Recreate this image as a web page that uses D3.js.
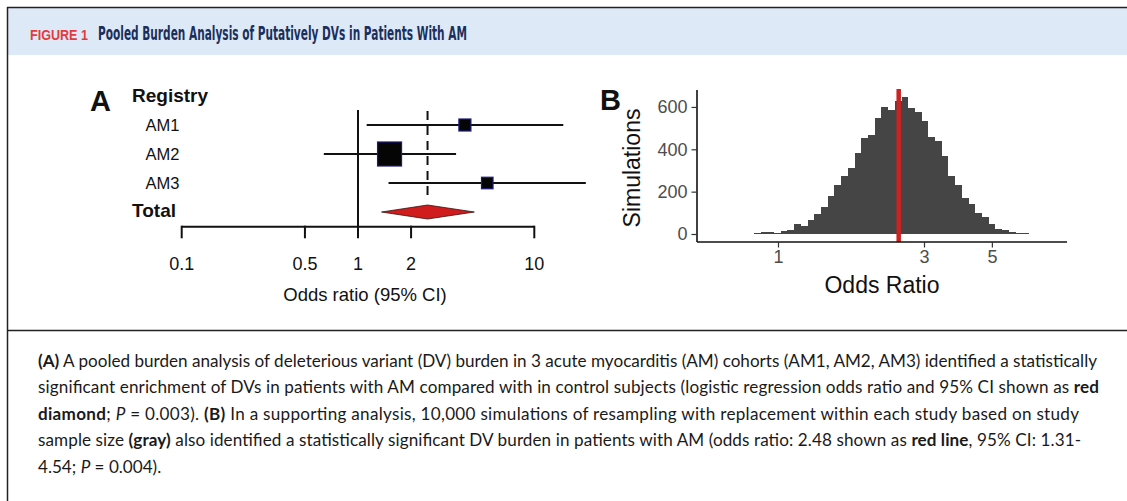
<!DOCTYPE html>
<html><head><meta charset="utf-8">
<script src="https://cdn.jsdelivr.net/npm/d3@7"></script>
<style>
html,body{margin:0;padding:0;background:#fff;}
svg{display:block;}
</style></head>
<body>
<svg id="fig" width="1127" height="501"></svg>
<script>
// ================= DATA =================
const figureLabel = "FIGURE 1";
const figureTitle = "Pooled Burden Analysis of Putatively DVs in Patients With AM";

// Panel A: forest plot
const forestHeader = "Registry";
const registries = ["AM1", "AM2", "AM3"];
const oddsRatios = [4.04, 1.51, 5.41];
const ciLower = [1.12, 0.64, 1.49];
const ciUpper = [14.6, 3.60, 19.6];
const studyWeights = [25, 50, 24];
const pooledLabel = "Total";
const pooledOR = [2.48];
const pooledCI = [1.36, 4.57];
const forestTicks = [0.1, 0.5, 1, 2, 10];
const forestXLabel = "Odds ratio (95% CI)";

// Panel B: histogram of simulated odds ratios (bins on log scale)
const histCounts = [1, 1, 1, 0, 1, 1, 3, 9, 9, 4,
  15, 18, 48, 40, 68, 93, 129, 178, 231, 276,
  313, 383, 455, 468, 546, 600, 584, 630, 649, 595,
  576, 532, 460, 440, 369, 273, 233, 172, 141, 101,
  78, 45, 25, 17, 10, 5, 3, 2, 0, 1];
const histFirstEdgeLn = -0.4846;   // ln(odds ratio) of first bin edge
const histBinWidthLn = 0.0505;     // bin width in ln(odds ratio)
const simOR = [2.48];
const histXTicks = [1, 3, 5];
const histYTicks = [0, 200, 400, 600];
const histXLabel = "Odds Ratio";
const histYLabel = "Simulations";

// Caption (segments: [text, style])
const captionLines = [
  [["(A)", "b"], [" A pooled burden analysis of deleterious variant (DV) burden in 3 acute myocarditis (AM) cohorts (AM1, AM2, AM3) identified a statistically", ""]],
  [["significant enrichment of DVs in patients with AM compared with in control subjects (logistic regression odds ratio and 95% CI shown as ", ""], ["red", "b"]],
  [["diamond", "b"], ["; ", ""], ["P", "i"], [" = 0.003). ", ""], ["(B)", "b"], [" In a supporting analysis, 10,000 simulations of resampling with replacement within each study based on study", ""]],
  [["sample size ", ""], ["(gray)", "b"], [" also identified a statistically significant DV burden in patients with AM (odds ratio: 2.48 shown as ", ""], ["red line", "b"], [", 95% CI: 1.31-", ""]],
  [["4.54; ", ""], ["P", "i"], [" = 0.004).", ""]]
];
const captionLineEnds = [1097, 1099, 1079, 1081, null];

// ================= DRAW =================
const svg = d3.select("#fig");
const ARIAL = "'Liberation Sans', Arial, Helvetica, sans-serif";
const NARROW = "'Liberation Sans Narrow', 'DejaVu Sans Condensed', 'Roboto Condensed', sans-serif";

// Frame + header band
svg.append("rect").attr("x", 8).attr("y", 8).attr("width", 1119).attr("height", 47).attr("fill", "#dde9f6");
svg.append("line").attr("x1", 7).attr("x2", 1127).attr("y1", 7.5).attr("y2", 7.5).attr("stroke", "#222").attr("stroke-width", 1.5);
svg.append("line").attr("x1", 7.5).attr("x2", 7.5).attr("y1", 7).attr("y2", 501).attr("stroke", "#222").attr("stroke-width", 1.5);
svg.append("line").attr("x1", 7).attr("x2", 1127).attr("y1", 330.5).attr("y2", 330.5).attr("stroke", "#222").attr("stroke-width", 1.5);

svg.append("text").attr("x", 30).attr("y", 40)
  .attr("font-family", ARIAL).attr("font-weight", "bold").attr("font-size", 14.5)
  .attr("fill", "#e33a3d").attr("textLength", 58).attr("lengthAdjust", "spacingAndGlyphs")
  .text(figureLabel);
svg.append("text").attr("x", 98).attr("y", 40)
  .attr("font-family", NARROW)
  .attr("font-weight", "bold").attr("font-size", 20)
  .attr("fill", "#1b2f5c").attr("textLength", 369).attr("lengthAdjust", "spacingAndGlyphs")
  .text(figureTitle);

// ---------- Panel A ----------
const gA = svg.append("g");
gA.append("text").attr("x", 90).attr("y", 111).attr("font-family", ARIAL).attr("font-weight", "bold")
  .attr("font-size", 29).attr("fill", "#111").text("A");

const rowY = d3.scalePoint().domain([forestHeader, ...registries, pooledLabel]).range([96, 212]);
const fx = d3.scaleLog().domain([0.1, 10]).range([181.7, 534.3]);

gA.append("text").attr("x", 132).attr("y", rowY(forestHeader) + 6).attr("font-family", ARIAL)
  .attr("font-weight", "bold").attr("font-size", 19).attr("fill", "#111").text(forestHeader);
gA.selectAll("text.reg").data(registries).join("text").attr("class", "reg")
  .attr("x", 179.5).attr("y", d => rowY(d) + 5.5).attr("text-anchor", "end")
  .attr("font-family", ARIAL).attr("font-size", 16.5).attr("fill", "#111").text(d => d);
gA.append("text").attr("x", 132).attr("y", rowY(pooledLabel) + 5).attr("font-family", ARIAL)
  .attr("font-weight", "bold").attr("font-size", 19).attr("fill", "#111").text(pooledLabel);

const axisY = 226.7;
gA.append("line").attr("x1", fx(1)).attr("x2", fx(1)).attr("y1", 110).attr("y2", axisY)
  .attr("stroke", "#111").attr("stroke-width", 2);
gA.append("line").attr("x1", fx(pooledOR[0])).attr("x2", fx(pooledOR[0])).attr("y1", 111).attr("y2", 201)
  .attr("stroke", "#111").attr("stroke-width", 2).attr("stroke-dasharray", "9,6");

const rows = registries.map((r, i) => ({ r, or: oddsRatios[i], lo: ciLower[i], hi: ciUpper[i], w: studyWeights[i] }));
const boxSide = d3.scaleLinear().domain([0, 50]).range([0, 24]);
gA.selectAll("line.ci").data(rows).join("line").attr("class", "ci")
  .attr("x1", d => fx(d.lo)).attr("x2", d => fx(d.hi))
  .attr("y1", d => rowY(d.r)).attr("y2", d => rowY(d.r))
  .attr("stroke", "#111").attr("stroke-width", 2);
gA.selectAll("rect.box").data(rows).join("rect").attr("class", "box")
  .attr("x", d => fx(d.or) - boxSide(d.w) / 2).attr("y", d => rowY(d.r) - boxSide(d.w) / 2)
  .attr("width", d => boxSide(d.w)).attr("height", d => boxSide(d.w))
  .attr("fill", "#050505").attr("stroke", "#1d1a7a").attr("stroke-width", 1.2);

const dy = rowY(pooledLabel);
gA.append("path")
  .attr("d", `M${fx(pooledCI[0])},${dy} L${fx(pooledOR[0])},${dy - 7} L${fx(pooledCI[1])},${dy} L${fx(pooledOR[0])},${dy + 7} Z`)
  .attr("fill", "#d01c1c").attr("stroke", "#3a1010").attr("stroke-width", 0.8);

gA.append("line").attr("x1", fx(0.1)).attr("x2", fx(10)).attr("y1", axisY).attr("y2", axisY)
  .attr("stroke", "#111").attr("stroke-width", 2);
gA.selectAll("line.ft").data(forestTicks).join("line").attr("class", "ft")
  .attr("x1", d => fx(d)).attr("x2", d => fx(d)).attr("y1", axisY - 1).attr("y2", axisY + 11.6)
  .attr("stroke", "#111").attr("stroke-width", 2);
gA.selectAll("text.ftl").data(forestTicks).join("text").attr("class", "ftl")
  .attr("x", d => fx(d)).attr("y", 269.5).attr("text-anchor", "middle")
  .attr("font-family", ARIAL).attr("font-size", 18).attr("fill", "#111").text(d => String(d));
gA.append("text").attr("x", 365).attr("y", 300.5).attr("text-anchor", "middle")
  .attr("font-family", ARIAL).attr("font-size", 18.5).attr("fill", "#111").text(forestXLabel);

// ---------- Panel B ----------
const gB = svg.append("g");
gB.append("text").attr("x", 600).attr("y", 110).attr("font-family", ARIAL).attr("font-weight", "bold")
  .attr("font-size", 29).attr("fill", "#111").text("B");

const hx = d3.scaleLog().domain([0.5436, 8.80]).range([697, 1067]);
const hy = d3.scaleLinear().domain([-37.8, 680]).range([242, 90]);

const bins = histCounts.map((c, i) => ({
  x0: Math.exp(histFirstEdgeLn + i * histBinWidthLn),
  x1: Math.exp(histFirstEdgeLn + (i + 1) * histBinWidthLn),
  c
}));
gB.selectAll("rect.bar").data(bins).join("rect").attr("class", "bar")
  .attr("x", d => hx(d.x0)).attr("width", d => hx(d.x1) - hx(d.x0))
  .attr("y", d => hy(d.c)).attr("height", d => hy(0) - hy(d.c))
  .attr("fill", "#454545").attr("shape-rendering", "crispEdges");

gB.append("line").attr("x1", hx(simOR[0])).attr("x2", hx(simOR[0])).attr("y1", 89).attr("y2", 242)
  .attr("stroke", "#cc2222").attr("stroke-width", 4.5);

const xAxisB = d3.axisBottom(hx).tickValues(histXTicks).tickFormat(d3.format("d")).tickSize(5.5).tickPadding(3);
const gx = gB.append("g").attr("transform", "translate(0,242)").call(xAxisB);
const yAxisB = d3.axisLeft(hy).tickValues(histYTicks).tickSize(5.5).tickPadding(4);
const gy = gB.append("g").attr("transform", "translate(697,0)").call(yAxisB);
[gx, gy].forEach(g => {
  g.select(".domain").attr("stroke", "#111").attr("stroke-width", 1.6);
  g.selectAll(".tick line").attr("stroke", "#333").attr("stroke-width", 1.2);
  g.selectAll(".tick text").attr("fill", "#4d4d4d").attr("font-family", ARIAL).attr("font-size", 18);
});
gx.select(".domain").attr("d", "M697,0H1067");
gy.select(".domain").attr("d", "M0,90V242");

gB.append("text").attr("x", 882).attr("y", 293).attr("text-anchor", "middle")
  .attr("font-family", ARIAL).attr("font-size", 23).attr("fill", "#111").text(histXLabel);
gB.append("text").attr("transform", "translate(640,168) rotate(-90)").attr("text-anchor", "middle")
  .attr("font-family", ARIAL).attr("font-size", 23).attr("fill", "#111").text(histYLabel);

// ---------- Caption ----------
const capX = 38, capY0 = 367, capDY = 26.4;
const CAPFONT = "Lato, 'Open Sans', sans-serif";
function drawLine(i, size) {
  const t = svg.append("text").attr("class", "cap").attr("x", capX).attr("y", capY0 + i * capDY)
    .attr("font-family", CAPFONT).attr("font-size", size).attr("fill", "#1a1a1a");
  captionLines[i].forEach(([s, st]) => {
    const ts = t.append("tspan").text(s);
    if (st === "b") ts.attr("font-weight", "bold");
    if (st === "i") ts.attr("font-style", "italic");
  });
  return t;
}
const probe = drawLine(0, 16);
const natural = probe.node().getComputedTextLength();
probe.remove();
const capSize = 16 * (captionLineEnds[0] - capX) / natural;
captionLines.forEach((l, i) => {
  const t = drawLine(i, capSize);
  if (captionLineEnds[i]) {
    t.attr("textLength", captionLineEnds[i] - capX).attr("lengthAdjust", "spacing");
  }
});
</script>
</body></html>
